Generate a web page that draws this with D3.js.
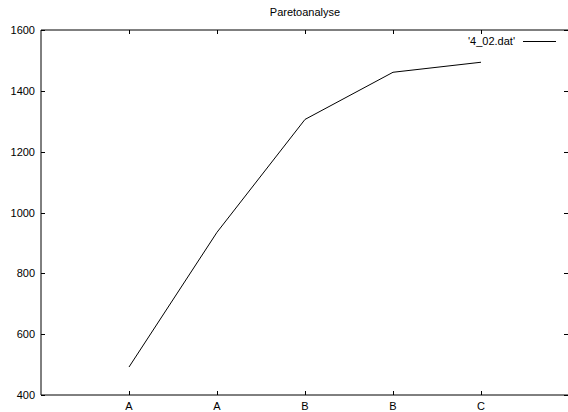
<!DOCTYPE html>
<html>
<head>
<meta charset="utf-8">
<script src="https://cdn.jsdelivr.net/npm/d3@7"></script>
<style>
  body { margin: 0; background: #fff; }
  text { font-family: "Liberation Sans", Arial, sans-serif; font-size: 11px; fill: #000; }
</style>
</head>
<body>
<script>
// data
const categories = ["A", "A", "B", "B", "C"];
const values = [492, 935, 1306, 1461, 1494];
const yTicks = [400, 600, 800, 1000, 1200, 1400, 1600];
const title = "Paretoanalyse";
const seriesName = "'4_02.dat'";

const width = 568;
const height = 412;
const margin = {top: 30, right: 0, bottom: 17, left: 41};

const svg = d3.select("body")
  .append("svg")
  .attr("width", width)
  .attr("height", height);

// x is the row index, 1..5, with room on both sides
const xScale = d3.scaleLinear()
  .domain([0, categories.length + 1])
  .range([margin.left, margin.left + 88 * (categories.length + 1)]);

const yScale = d3.scaleLinear()
  .domain([400, 1600])
  .range([height - margin.bottom, margin.top]);

const x0 = margin.left, x1 = width, y0 = height - margin.bottom, y1 = margin.top;

// frame
svg.append("path")
  .attr("d", `M${x1},${y1}H${x0}V${y0}H${x1}`)
  .attr("fill", "none")
  .attr("stroke", "#000")
  .attr("stroke-width", 1);

const idx = d3.range(1, categories.length + 1);

// x ticks bottom and top (mirrored)
svg.selectAll(".xt").data(idx).enter().append("path")
  .attr("d", i => `M${Math.round(xScale(i)) + 0.5},${y0}v-4M${Math.round(xScale(i)) + 0.5},${y1}v4`)
  .attr("stroke", "#000");
svg.selectAll(".xl").data(idx).enter().append("text")
  .attr("x", i => xScale(i))
  .attr("y", y0 + 15)
  .attr("text-anchor", "middle")
  .text(i => categories[i - 1]);

// y ticks left and right (mirrored)
svg.selectAll(".yt").data(yTicks).enter().append("path")
  .attr("d", v => `M${x0},${Math.round(yScale(v)) + 0.5}h4M${x1},${Math.round(yScale(v)) + 0.5}h-4`)
  .attr("stroke", "#000");
svg.selectAll(".yl").data(yTicks).enter().append("text")
  .attr("x", x0 - 6)
  .attr("y", v => yScale(v) + 4)
  .attr("text-anchor", "end")
  .text(v => v);

// title
svg.append("text")
  .attr("x", 305)
  .attr("y", 16)
  .attr("text-anchor", "middle")
  .text(title);

// the line
const line = d3.line()
  .x((d, i) => xScale(i + 1))
  .y(d => yScale(d));

svg.append("path")
  .datum(values)
  .attr("d", line)
  .attr("fill", "none")
  .attr("stroke", "#000")
  .attr("stroke-width", 1);

// legend
svg.append("text")
  .attr("x", 515)
  .attr("y", 45)
  .attr("text-anchor", "end")
  .text(seriesName);
svg.append("line")
  .attr("x1", 523).attr("x2", 556)
  .attr("y1", 41.5).attr("y2", 41.5)
  .attr("stroke", "#000");
</script>
</body>
</html>
